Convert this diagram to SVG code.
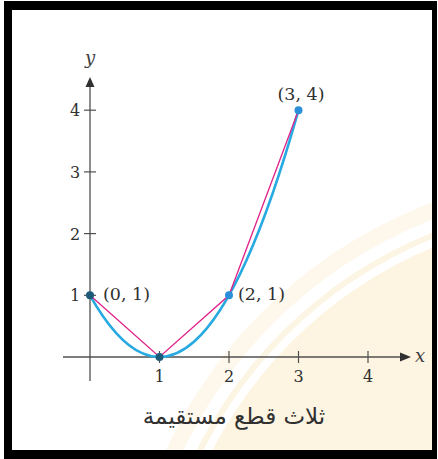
<svg xmlns="http://www.w3.org/2000/svg" width="438" height="459" viewBox="0 0 438 459">
<defs>
<style>
.ax{stroke:#505050;stroke-width:1.3;fill:none}
.tk{stroke:#505050;stroke-width:1.2}
.lbl{font-family:"DejaVu Serif","Liberation Serif",serif;font-size:16px;fill:#303030}
.pt{font-family:"DejaVu Serif","Liberation Serif",serif;font-size:17.5px;fill:#303030}
.var{font-family:"DejaVu Serif","Liberation Serif",serif;font-size:18px;font-style:italic;fill:#404040}
.cap{font-family:"DejaVu Sans","Noto Sans",sans-serif;font-size:23px;fill:#303030}
</style>
<clipPath id="inner"><rect x="12" y="10" width="420" height="440"/></clipPath>
</defs>
<rect x="4" y="1" width="433" height="458" fill="#000"/>
<rect x="12" y="10" width="420" height="440" fill="#fff"/>
<g id="watermark" clip-path="url(#inner)">
<circle cx="600" cy="650" r="478" fill="#fef8ec"/>
<circle cx="600" cy="650" r="462" fill="#ffffff"/>
<circle cx="600" cy="650" r="450" fill="#fdf5e4"/>
<circle cx="600" cy="650" r="444" fill="#ffffff"/>
<circle cx="600" cy="650" r="436" fill="#fdf4e1"/>
</g>
<g id="axes">
<line class="ax" x1="90" y1="86" x2="90" y2="381"/>
<polygon points="90,77 85.5,87 94.5,87" fill="#303030"/>
<line class="ax" x1="63" y1="357" x2="400" y2="357"/>
<polygon points="411,357 400,352.5 400,361.5" fill="#303030"/>
<line class="tk" x1="84" y1="295.3" x2="96" y2="295.3"/>
<line class="tk" x1="84" y1="233.6" x2="96" y2="233.6"/>
<line class="tk" x1="84" y1="171.9" x2="96" y2="171.9"/>
<line class="tk" x1="84" y1="110.2" x2="96" y2="110.2"/>
<line class="tk" x1="159.5" y1="351" x2="159.5" y2="363"/>
<line class="tk" x1="229" y1="351" x2="229" y2="363"/>
<line class="tk" x1="298.5" y1="351" x2="298.5" y2="363"/>
<line class="tk" x1="368" y1="351" x2="368" y2="363"/>
<text class="lbl" x="75" y="301" text-anchor="middle">1</text>
<text class="lbl" x="75" y="239.5" text-anchor="middle">2</text>
<text class="lbl" x="75" y="178" text-anchor="middle">3</text>
<text class="lbl" x="75" y="116" text-anchor="middle">4</text>
<text class="lbl" x="159.5" y="382" text-anchor="middle">1</text>
<text class="lbl" x="229" y="382" text-anchor="middle">2</text>
<text class="lbl" x="298.5" y="382" text-anchor="middle">3</text>
<text class="lbl" x="368" y="382" text-anchor="middle">4</text>
<text class="var" x="90" y="64" text-anchor="middle">y</text>
<text class="var" x="420" y="362" text-anchor="middle">x</text>
</g>
<g id="curve">
<path d="M90,295.3 Q194.25,480.4 298.5,110.2" fill="none" stroke="#27aae1" stroke-width="2.6"/>
</g>
<g id="connectors">
<polyline points="90,295.3 159.5,357 229,295.3 298.5,110.2" fill="none" stroke="#e0218a" stroke-width="1.3"/>
</g>
<g id="p01"><circle cx="90" cy="295.3" r="4" fill="#1d5a7a"/><text class="pt" x="103" y="300">(0, 1)</text></g>
<g id="p10"><circle cx="159.5" cy="357" r="4" fill="#1d5a7a"/></g>
<g id="p21"><circle cx="229" cy="295.3" r="4" fill="#2a8fd8"/><text class="pt" x="238" y="300">(2, 1)</text></g>
<g id="p34"><circle cx="298.5" cy="110.2" r="4" fill="#2a8fd8"/><text class="pt" x="301" y="100" text-anchor="middle">(3, 4)</text></g>
<g id="caption"><text class="cap" x="234" y="424" text-anchor="middle" direction="rtl">ثلاث قطع مستقيمة</text></g>
</svg>
